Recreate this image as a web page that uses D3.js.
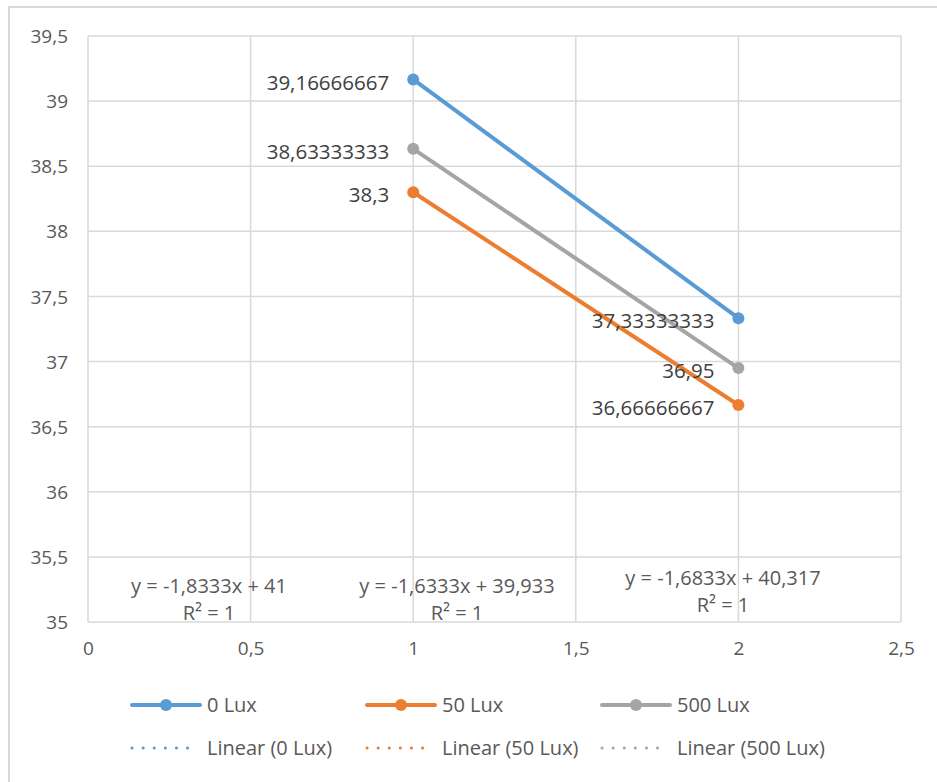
<!DOCTYPE html>
<html><head><meta charset="utf-8">
<script src="https://cdn.jsdelivr.net/npm/d3@7"></script>
<style>body{margin:0;background:#fff}svg{display:block}text{font-family:"Open Sans",sans-serif}</style>
</head><body><svg id="c" width="937" height="782"></svg>
<script>
const xValues = [1, 2];
const seriesNames = ["0 Lux", "50 Lux", "500 Lux"];
const lux0 = [39.16666667, 37.33333333];
const lux50 = [38.3, 36.66666667];
const lux500 = [38.63333333, 36.95];
const labels0 = ["39,16666667", "37,33333333"];
const labels50 = ["38,3", "36,66666667"];
const labels500 = ["38,63333333", "36,95"];
const trendEq = ["y = -1,8333x + 41", "y = -1,6333x + 39,933", "y = -1,6833x + 40,317"];
const trendR2 = ["R² = 1", "R² = 1", "R² = 1"];
const xTicks = [0, 0.5, 1, 1.5, 2, 2.5];
const yTicks = [35, 35.5, 36, 36.5, 37, 37.5, 38, 38.5, 39, 39.5];
const colors = ["#5b9bd5", "#ed7d31", "#a5a5a5"];

const svg = d3.select("#c");
svg.append("rect").attr("x",9).attr("y",7).attr("width",1000).attr("height",1000)
  .attr("fill","#fff").attr("stroke","#d9d9d9").attr("stroke-width",2);

const x = d3.scaleLinear().domain([0,2.5]).range([88,901]);
const y = d3.scaleLinear().domain([35,39.5]).range([622,36]);
const fmt = v => String(v).replace(".", ",");

// grid
svg.append("g").selectAll("line").data(yTicks).join("line")
  .attr("x1",x(0)).attr("x2",x(2.5)).attr("y1",d=>y(d)).attr("y2",d=>y(d))
  .attr("stroke","#d9d9d9").attr("stroke-width",1.5);
svg.append("g").selectAll("line").data(xTicks).join("line")
  .attr("x1",d=>x(d)).attr("x2",d=>x(d)).attr("y1",y(35)).attr("y2",y(39.5))
  .attr("stroke","#d9d9d9").attr("stroke-width",1.5);

// axes labels via d3 axes
const yAxis = svg.append("g").attr("transform",`translate(${x(0)-20},0)`)
  .call(d3.axisLeft(y).tickValues(yTicks).tickFormat(fmt).tickSize(0).tickPadding(0));
yAxis.select(".domain").remove();
yAxis.selectAll("text").attr("fill","#595959").style("font-size","19px").attr("dy","0.35em");
const xAxis = svg.append("g").attr("transform",`translate(0,${y(35)+19})`)
  .call(d3.axisBottom(x).tickValues(xTicks).tickFormat(fmt).tickSize(0).tickPadding(0));
xAxis.select(".domain").remove();
xAxis.selectAll("text").attr("fill","#595959").style("font-size","19px").attr("dy","0.71em");

const series = [lux0, lux50, lux500];
const labs = [labels0, labels50, labels500];
const line = d3.line().x((d,i)=>x(xValues[i])).y(d=>y(d));

series.forEach((s,k)=>{
  svg.append("path").attr("d",line(s)).attr("fill","none").attr("stroke",colors[k])
    .attr("stroke-width",4).attr("stroke-linecap","round");
  svg.append("path").attr("d",line(s)).attr("fill","none").attr("stroke",colors[k])
    .attr("stroke-width",2).attr("stroke-dasharray","2,4").attr("stroke-linecap","round");
  svg.append("g").selectAll("circle").data(s).join("circle")
    .attr("cx",(d,i)=>x(xValues[i])).attr("cy",d=>y(d)).attr("r",6).attr("fill",colors[k]);
});

// data labels
series.forEach((s,k)=>{
  svg.append("g").selectAll("text").data(s).join("text")
    .attr("x",(d,i)=>x(xValues[i])-24)
    .attr("y",(d,i)=>y(d)+3)
    .attr("dy","0.35em").attr("text-anchor","end").attr("fill","#404040")
    .style("font-size","20.5px").text((d,i)=>labs[k][i]);
});

// trendline labels
const eqPos = [[209,586],[457,586],[723,578]];
trendEq.forEach((t,k)=>{
  svg.append("text").attr("x",eqPos[k][0]).attr("y",eqPos[k][1]).attr("dy","0.35em")
    .attr("text-anchor","middle").attr("fill","#595959").style("font-size","20px").text(t);
  svg.append("text").attr("x",eqPos[k][0]).attr("y",eqPos[k][1]+27).attr("dy","0.35em")
    .attr("text-anchor","middle").attr("fill","#595959").style("font-size","20px").text(trendR2[k]);
});

// legend
const legX = [132, 367, 602];
seriesNames.forEach((n,k)=>{
  const g = svg.append("g");
  g.append("line").attr("x1",legX[k]).attr("x2",legX[k]+68).attr("y1",705).attr("y2",705)
    .attr("stroke",colors[k]).attr("stroke-width",4).attr("stroke-linecap","round");
  g.append("circle").attr("cx",legX[k]+34).attr("cy",705).attr("r",6).attr("fill",colors[k]);
  g.append("text").attr("x",legX[k]+75).attr("y",705).attr("dy","0.35em").attr("fill","#595959")
    .style("font-size","20px").text(n);
  g.append("line").attr("x1",legX[k]).attr("x2",legX[k]+66).attr("y1",748).attr("y2",748)
    .attr("stroke",colors[k]).attr("stroke-width",3).attr("stroke-dasharray","0.1,11").attr("stroke-linecap","round");
  g.append("text").attr("x",legX[k]+75).attr("y",748).attr("dy","0.35em").attr("fill","#595959")
    .style("font-size","20px").text(`Linear (${n})`);
});
</script></body></html>
